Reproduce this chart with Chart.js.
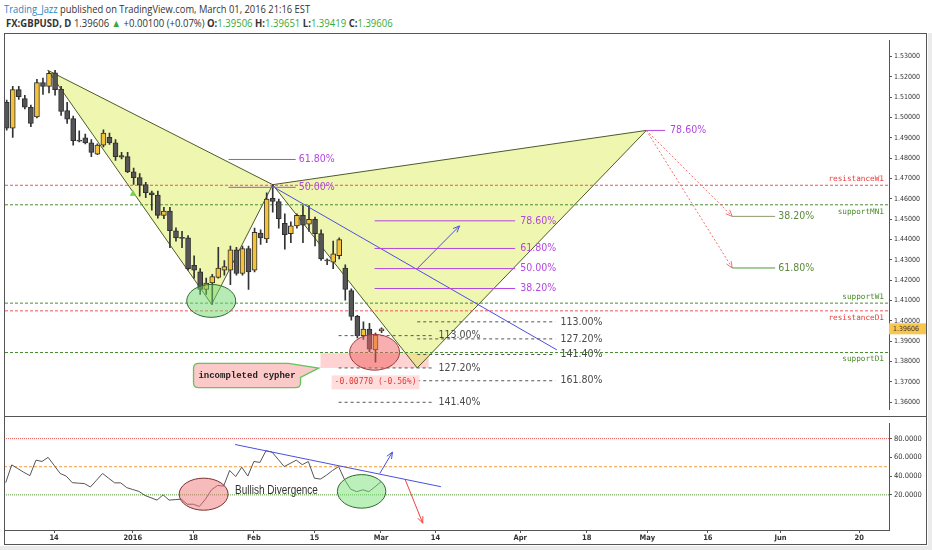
<!DOCTYPE html>
<html lang="en">
<head>
<meta charset="UTF-8">
<title>GBPUSD D - incompleted cypher</title>
<script src="https://cdn.jsdelivr.net/npm/chart.js"></script>
<style>
  body { margin: 0; width: 932px; height: 550px; background: #fff; position: relative; overflow: hidden; }
  .hdr { position: absolute; white-space: nowrap; transform-origin: 0 0; color: #333; font-family: 'Open Sans', sans-serif; }
  #line1 { left: 4px; top: 1px; font-size: 11px; }
  #line1 .user { color: #2a85c4; }
  #line2 { left: 6px; top: 16px; font-size: 10.5px; }
  #line2 b { font-weight: 700; }
  #line2 .up { color: #3aa935; }
  canvas { position: absolute; left: 0; }
  #priceChart { top: 34px; }
  #oscChart { top: 417px; }
  .frame { position: absolute; left: 4px; top: 33px; width: 923px; height: 512px; border: 1px solid #555; box-sizing: border-box; pointer-events: none; }
  .sep { position: absolute; left: 4px; top: 416px; width: 923px; height: 1px; background: #555; }
  .strip { position: absolute; background: #ebebeb; }
</style>
</head>
<body>
<div class="hdr" id="line1"><span class="user">Trading_Jazz</span> published on TradingView.com, March 01, 2016 21:16 EST</div>
<div class="hdr" id="line2"><b>FX:GBPUSD, D</b> 1.39606 <span class="up">&#9650;</span> +0.00100 (+0.07%) <b>O:</b><span class="up">1.39506</span> <b>H:</b><span class="up">1.39651</span> <b>L:</b><span class="up">1.39419</span> <b>C:</b><span class="up">1.39606</span></div>

<canvas id="priceChart" width="932" height="382"></canvas>
<canvas id="oscChart" width="932" height="133"></canvas>
<div class="frame"></div>
<div class="sep"></div>
<div class="strip" style="left:0;top:546px;width:932px;height:4px"></div>
<div class="strip" style="left:928px;top:33px;width:4px;height:517px"></div>

<script>
// ---------- data (one x step = one trading day, 0 = Dec 7 2015) ----------
const firstIdx = -3;   // first candle: Dec 2 2015, last: Mar 1 2016

const opens  = [1.5075,1.4948,1.5138,1.5094,1.5051,1.5003,1.5173,1.5154,1.5220,1.5141,
                1.5035,1.4995,1.4890,1.4900,1.4876,1.4820,1.4865,1.4903,1.4876,1.4813,
                1.4808,1.4733,1.4705,1.4670,1.4630,1.4619,1.4519,1.4540,1.4443,1.4408,
                1.4408,1.4273,1.4241,1.4154,1.4186,1.4213,1.4249,1.4249,1.4349,1.4233,
                1.4356,1.4249,1.4432,1.4403,1.4603,1.4587,1.4480,1.4429,1.4467,1.4519,
                1.4475,1.4499,1.4429,1.4300,1.4289,1.4320,1.4260,1.4149,1.4022,1.3927,
                1.3959,1.3857,1.39506];
const highs  = [1.5086,1.5154,1.5154,1.5110,1.5062,1.5189,1.5194,1.5225,1.5233,1.5154,
                1.5075,1.5008,1.4935,1.4919,1.4892,1.4871,1.4940,1.4924,1.4892,1.4829,
                1.4829,1.4752,1.4724,1.4681,1.4638,1.4638,1.4559,1.4559,1.4457,1.4440,
                1.4419,1.4320,1.4257,1.4210,1.4229,1.4362,1.4297,1.4368,1.4362,1.4368,
                1.4368,1.4456,1.4448,1.4630,1.4670,1.4599,1.4527,1.4487,1.4527,1.4567,
                1.4567,1.4511,1.4448,1.4305,1.4392,1.4408,1.4276,1.4157,1.4027,1.3995,
                1.3987,1.3940,1.39651];
const lows   = [1.4938,1.4903,1.5090,1.5043,1.4956,1.4999,1.5114,1.5122,1.5110,1.5011,
                1.4971,1.4865,1.4880,1.4871,1.4808,1.4818,1.4856,1.4868,1.4789,1.4797,
                1.4729,1.4671,1.4614,1.4606,1.4545,1.4505,1.4503,1.4360,1.4392,1.4360,
                1.4249,1.4210,1.4130,1.4130,1.4081,1.4210,1.4225,1.4178,1.4225,1.4225,
                1.4154,1.4241,1.4376,1.4384,1.4535,1.4456,1.4352,1.4384,1.4456,1.4384,
                1.4440,1.4368,1.4297,1.4276,1.4257,1.4305,1.4101,1.4003,1.3916,1.3908,
                1.3848,1.3797,1.39419];
const closes = [1.4948,1.5138,1.5103,1.5051,1.4971,1.5173,1.5154,1.5218,1.5138,1.5030,
                1.4992,1.4887,1.4884,1.4876,1.4829,1.4865,1.4924,1.4876,1.4808,1.4805,
                1.4733,1.4705,1.4667,1.4630,1.4619,1.4519,1.4540,1.4443,1.4408,1.4406,
                1.4257,1.4249,1.4154,1.4186,1.4218,1.4260,1.4267,1.4349,1.4233,1.4356,
                1.4241,1.4435,1.4408,1.4599,1.4587,1.4503,1.4424,1.4467,1.4519,1.4471,
                1.4499,1.4429,1.4305,1.4295,1.4329,1.4400,1.4154,1.4022,1.3927,1.3959,
                1.3860,1.3930,1.39606];

const oscValues = [33,52,48,44,40.5,57,55.6,60,51.5,42.8,
                   40,33,32.5,32,28.4,35.6,42.8,37.8,32.8,32.8,
                   27.7,25.7,23.7,19.4,16.9,14.4,20,14.4,14.9,15.4,
                   10,10,7.6,15.4,25.4,30,29.3,46,39.5,49.5,
                   40,55.6,54.6,67,65.6,58,50.2,53.5,57,52.2,
                   55.6,37.8,36.8,41,46,50.2,36,26,23.4,25.4,
                   23.4,28.5,34];

const dateTickIdx    = [5, 18, 28, 38, 48, 59, 68, 82, 93, 103, 113, 125, 138];
const dateTickLabels = ['14', '2016', '18', 'Feb', '15', 'Mar', '14', 'Apr', '18', 'May', '16', 'Jun', '20'];
const priceTicks = [1.36, 1.37, 1.38, 1.39, 1.40, 1.41, 1.42, 1.43, 1.44, 1.45, 1.46, 1.47, 1.48, 1.49, 1.50, 1.51, 1.52, 1.53];
const oscTicks   = [20, 40, 60, 80];
const oscLevels  = [80, 50, 20];

// X, A, B, C, D of the cypher drawing
const cypherIdx   = [3.8, 30.9, 41.0, 64.9, 102.8];
const cypherPrice = [1.5233, 1.4081, 1.4670, 1.3768, 1.4937];

const levelNames  = ['resistanceW1', 'supportMN1', 'supportW1', 'resistanceD1', 'supportD1'];
const levelPrices = [1.4667, 1.4571, 1.4087, 1.4049, 1.3844];

const fibBIdx = [33.7, 44.8];
const fibBLabels = ['61.80%', '50.00%'];
const fibBPrices = [1.4794, 1.4657];

const fibCIdx = [57.85, 81.1];
const fibCLabels = ['78.60%', '61.80%', '50.00%', '38.20%'];
const fibCPrices = [1.4492, 1.4356, 1.4257, 1.4159];

const fibDIdx = [102.8, 105.9];
const fibDLabels = ['78.60%'];
const fibDPrices = [1.4937];

const extRightIdx = [64.9, 87.75];
const extRightLabels = ['113.00%', '127.20%', '141.40%', '161.80%'];
const extRightPrices = [1.3995, 1.3911, 1.3834, 1.3705];

const extLeftIdx = [51.9, 67.6];
const extLeftLabels = ['113.00%', '127.20%', '141.40%'];
const extLeftPrices = [1.3927, 1.3768, 1.3599];

const targetIdx = [117.0, 124.1];
const targetLabels = ['38.20%', '61.80%'];
const targetPrices = [1.4514, 1.4260];

const trendIdx = [40.95, 88.0];
const trendPrice = [1.4662, 1.3857];
const arrowUpIdx = [64.9, 71.9];
const arrowUpPrice = [1.4257, 1.4467];

const zoneIdx = [48.9, 66.8];
const zonePrice = [1.3768, 1.3841];

// ellipses: centre x, centre y, half width (days), half height (value units)
const priceEllipses = [[57.85, 1.3845, 4.13, 0.0088], [30.83, 1.4098, 4.05, 0.0081]];
const oscEllipses   = [[29.7, 20.7, 4.04, 17.1], [55.8, 23.7, 4.0, 17.9]];

const calloutIdx = [27.9, 45.6, 48.6];       // left, right, tip
const calloutPrice = [1.3790, 1.3671, 1.3767]; // top, bottom, tip
const calloutText = 'incompleted cypher';
const changeText = '-0.00770 (-0.56%)';
const changeAt = [58.0, 1.3697];

const divTrendIdx = [34.9, 68.9], divTrendVal = [73.7, 28.7];
const divUpIdx = [58.8, 60.9], divUpVal = [42.8, 65.6];
const divDownIdx = [62.97, 65.9], divDownVal = [36.8, -10.2];
const divText = 'Bullish Divergence';
const divTextAt = [34.9, 24.7];

const markerIdx = [17.9], markerPrice = [1.4625];

// ---------- view ----------
const idxMin = -3.28, idxMax = 142.93;
const priceMin = 1.3562, priceMax = 1.5381;
const oscMin = -17.5, oscMax = 96.1;

const COND = '"DejaVu Sans Condensed", "Liberation Sans Narrow", "DejaVu Sans", sans-serif';
const MONO = '"DejaVu Sans Mono", "Liberation Mono", monospace';
const PCT_FONT = '10.5px ' + COND;
const PURPLE = '#b347e0';
const RED = '#f05454';
const GREEN = '#4b8d32';
const BLUE = '#4a4fe0';
const GRAYLBL = '#4a4a4a';

Chart.defaults.animation = false;
Chart.defaults.font.family = COND;

function seg(xs, ys, color, extra) {
  return Object.assign({
    type: 'line',
    data: xs.map((x, i) => ({ x: x, y: ys[i] })),
    borderColor: color, borderWidth: 1, pointRadius: 0, fill: false, tension: 0, order: 2
  }, extra || {});
}

function label(ctx, x, y, text, color, font, align, squeeze) {
  ctx.save();
  ctx.font = font;
  ctx.fillStyle = color;
  ctx.textAlign = align || 'left';
  ctx.textBaseline = 'middle';
  ctx.translate(x, y);
  if (squeeze) ctx.scale(squeeze, 1);
  ctx.fillText(text, 0, 0);
  ctx.restore();
}

function arrowHead(ctx, x1, y1, x2, y2, color) {
  const a = Math.atan2(y2 - y1, x2 - x1), s = 7;
  ctx.save();
  ctx.strokeStyle = color;
  ctx.lineWidth = 1;
  ctx.setLineDash([]);
  ctx.beginPath();
  ctx.moveTo(x2 - s * Math.cos(a - 0.4), y2 - s * Math.sin(a - 0.4));
  ctx.lineTo(x2, y2);
  ctx.lineTo(x2 - s * Math.cos(a + 0.4), y2 - s * Math.sin(a + 0.4));
  ctx.stroke();
  ctx.restore();
}

function ellipse(chart, e, fill, stroke) {
  const { ctx, scales: { x, y } } = chart;
  const cx = x.getPixelForValue(e[0]), cy = y.getPixelForValue(e[1]);
  const rx = Math.abs(x.getPixelForValue(e[0] + e[2]) - cx);
  const ry = Math.abs(y.getPixelForValue(e[1] + e[3]) - cy);
  ctx.save();
  ctx.beginPath();
  ctx.ellipse(cx, cy, rx, ry, 0, 0, Math.PI * 2);
  ctx.fillStyle = fill;
  ctx.fill();
  ctx.strokeStyle = stroke;
  ctx.lineWidth = 1;
  ctx.stroke();
  ctx.restore();
}

function axisTicks(values) {
  return function (scale) { scale.ticks = values.map(v => ({ value: v })); };
}

// ---------- price pane datasets ----------
const priceSets = [];
const tri = { fill: 'shape', backgroundColor: 'rgba(222,238,96,0.5)', borderColor: '#4d5a27', order: 20 };
priceSets.push(seg([0, 1, 2, 0].map(i => cypherIdx[i]), [0, 1, 2, 0].map(i => cypherPrice[i]), '#4d5a27', tri));
priceSets.push(seg([2, 3, 4, 2].map(i => cypherIdx[i]), [2, 3, 4, 2].map(i => cypherPrice[i]), '#4d5a27', tri));

levelNames.forEach((n, i) => {
  const col = n.startsWith('resistance') ? RED : GREEN;
  priceSets.push(seg([idxMin, idxMax], [levelPrices[i], levelPrices[i]], col, { borderDash: [3, 2], order: 15 }));
});

[[fibBIdx, fibBPrices], [fibCIdx, fibCPrices], [fibDIdx, fibDPrices]].forEach(([xs, ps]) => {
  ps.forEach(p => priceSets.push(seg(xs, [p, p], PURPLE)));
});
[[extRightIdx, extRightPrices], [extLeftIdx, extLeftPrices]].forEach(([xs, ps]) => {
  ps.forEach(p => priceSets.push(seg(xs, [p, p], '#555', { borderDash: [3, 3] })));
});
priceSets.push(seg(targetIdx, [targetPrices[0], targetPrices[0]], '#8c9a6c'));
priceSets.push(seg(targetIdx, [targetPrices[1], targetPrices[1]], '#4d9a3a'));

priceSets.push(seg(trendIdx, trendPrice, BLUE));
priceSets.push(seg(arrowUpIdx, arrowUpPrice, BLUE));
targetPrices.forEach(p => {
  priceSets.push(seg([cypherIdx[4], targetIdx[0]], [cypherPrice[4], p], '#f07070', { borderDash: [2, 2] }));
});

const candleX = opens.map((o, i) => firstIdx + i);
const isUp = opens.map((o, i) => closes[i] >= o);
priceSets.push({
  type: 'bar',
  data: candleX.map((x, i) => ({ x: x, y: [opens[i], closes[i]] })),
  backgroundColor: isUp.map(u => u ? '#f5c33b' : '#555555'),
  borderColor: '#2f2f2f', borderWidth: 1, borderSkipped: false,
  barThickness: 5, minBarLength: 1, grouped: false, order: 4
});
priceSets.push({
  type: 'bar',
  data: candleX.map((x, i) => ({ x: x, y: [lows[i], highs[i]] })),
  backgroundColor: '#333', barThickness: 1, grouped: false, order: 5
});
priceSets.push({
  type: 'line', data: markerIdx.map((x, i) => ({ x: x, y: markerPrice[i] })), showLine: false,
  pointStyle: 'triangle', pointRadius: 3, pointBackgroundColor: '#7ccf4c', pointBorderColor: '#7ccf4c', order: 1
});

const priceOverlay = {
  id: 'priceOverlay',
  beforeDatasetsDraw(chart) {
    const { ctx, scales: { x, y } } = chart;
    const x0 = x.getPixelForValue(zoneIdx[0]), x1 = x.getPixelForValue(zoneIdx[1]);
    const y0 = y.getPixelForValue(zonePrice[1]), y1 = y.getPixelForValue(zonePrice[0]);
    ctx.save();
    ctx.fillStyle = 'rgba(255,175,175,0.55)';
    ctx.fillRect(x0, y0, x1 - x0, y1 - y0);
    ctx.restore();
  },
  afterDatasetsDraw(chart) {
    const { ctx, chartArea, scales: { x, y } } = chart;
    const X = v => x.getPixelForValue(v), Y = v => y.getPixelForValue(v);

    ellipse(chart, priceEllipses[0], 'rgba(240,95,95,0.5)', '#9a3a3a');
    ellipse(chart, priceEllipses[1], 'rgba(110,215,110,0.5)', '#2f6a2f');

    arrowHead(ctx, X(arrowUpIdx[0]), Y(arrowUpPrice[0]), X(arrowUpIdx[1]), Y(arrowUpPrice[1]), BLUE);
    targetPrices.forEach(p => arrowHead(ctx, X(cypherIdx[4]), Y(cypherPrice[4]), X(targetIdx[0]), Y(p), '#f07070'));

    fibBLabels.forEach((t, i) => label(ctx, X(fibBIdx[1]) + 3, Y(fibBPrices[i]), t, PURPLE, PCT_FONT));
    fibCLabels.forEach((t, i) => label(ctx, X(fibCIdx[1]) + 5, Y(fibCPrices[i]), t, PURPLE, PCT_FONT));
    fibDLabels.forEach((t, i) => label(ctx, X(fibDIdx[1]) + 5, Y(fibDPrices[i]), t, PURPLE, PCT_FONT));
    extRightLabels.forEach((t, i) => label(ctx, X(extRightIdx[1]) + 5, Y(extRightPrices[i]), t, GRAYLBL, PCT_FONT));
    extLeftLabels.forEach((t, i) => label(ctx, X(extLeftIdx[1]) + 5, Y(extLeftPrices[i]), t, GRAYLBL, PCT_FONT));
    targetLabels.forEach((t, i) => label(ctx, X(targetIdx[1]) + 3, Y(targetPrices[i]), t, '#5b8a3c', PCT_FONT));

    const above = [true, false, true, false, false];
    levelNames.forEach((n, i) => {
      const col = n.startsWith('resistance') ? '#e83c3c' : '#4b8a2b';
      label(ctx, chartArea.right - 5, Y(levelPrices[i]) + (above[i] ? -6 : 7), n, col, '7.7px ' + MONO, 'right');
    });

    // callout
    const l = X(calloutIdx[0]), r = X(calloutIdx[1]), t = Y(calloutPrice[0]), b = Y(calloutPrice[1]);
    const tx = X(calloutIdx[2]), ty = Y(calloutPrice[2]), rad = 5;
    ctx.save();
    ctx.beginPath();
    ctx.moveTo(l + rad, t);
    ctx.lineTo(r - 12, t);
    ctx.lineTo(tx, ty);
    ctx.lineTo(r, t + 14);
    ctx.lineTo(r, b - rad);
    ctx.quadraticCurveTo(r, b, r - rad, b);
    ctx.lineTo(l + rad, b);
    ctx.quadraticCurveTo(l, b, l, b - rad);
    ctx.lineTo(l, t + rad);
    ctx.quadraticCurveTo(l, t, l + rad, t);
    ctx.closePath();
    ctx.fillStyle = '#fcc9c9';
    ctx.fill();
    ctx.strokeStyle = '#62c45a';
    ctx.lineWidth = 1.3;
    ctx.stroke();
    ctx.restore();
    label(ctx, (l + r) / 2, (t + b) / 2, calloutText, '#222', 'bold 9px "Liberation Mono", monospace', 'center');

    // price change tag
    const cx = X(changeAt[0]), cy = Y(changeAt[1]);
    ctx.save();
    ctx.font = '8px ' + MONO;
    const w = ctx.measureText(changeText).width;
    ctx.fillStyle = 'rgba(255,215,215,0.85)';
    ctx.fillRect(cx - w / 2 - 3, cy - 7, w + 6, 14);
    ctx.restore();
    label(ctx, cx, cy, changeText, '#e03a3a', '8px ' + MONO, 'center');
  },
  afterDraw(chart) {
    const { ctx, chartArea, scales: { y } } = chart;
    const last = closes[closes.length - 1];
    const py = y.getPixelForValue(last);
    ctx.save();
    ctx.fillStyle = '#f9c64d';
    ctx.fillRect(chartArea.right, py - 5.5, 37, 11);
    ctx.restore();
    label(ctx, chartArea.right + 4, py, last.toFixed(5), '#333', '7px ' + COND);
  }
};

new Chart(document.getElementById('priceChart'), {
  type: 'bar',
  data: { datasets: priceSets },
  options: {
    responsive: false,
    layout: { padding: { left: 4, right: 0, top: 0, bottom: 0 } },
    plugins: { legend: { display: false }, tooltip: { enabled: false } },
    scales: {
      x: { type: 'linear', min: idxMin, max: idxMax, offset: false, display: false },
      y: {
        position: 'right', min: priceMin, max: priceMax,
        afterFit(s) { s.width = 43; },
        afterBuildTicks: axisTicks(priceTicks),
        grid: { drawOnChartArea: false, drawTicks: true, tickLength: 3, color: '#555' },
        border: { display: true, color: '#555' },
        ticks: { padding: 2, color: '#333', font: { size: 7, family: COND }, callback: v => v.toFixed(5) }
      }
    }
  },
  plugins: [priceOverlay]
});

// ---------- oscillator pane ----------
const oscSets = [];
const levelStyle = [['#f06060', [1, 1]], ['#f0a040', [3, 2]], ['#5a9a3a', [1, 1]]];
oscLevels.forEach((v, i) => {
  oscSets.push(seg([idxMin, idxMax], [v, v], levelStyle[i][0], { borderDash: levelStyle[i][1], order: 10 }));
});
oscSets.push(seg(candleX, oscValues, '#555', { order: 3 }));
oscSets.push(seg(divTrendIdx, divTrendVal, BLUE));
oscSets.push(seg(divUpIdx, divUpVal, BLUE));
oscSets.push(seg(divDownIdx, divDownVal, '#f04040'));

const oscOverlay = {
  id: 'oscOverlay',
  afterDatasetsDraw(chart) {
    const { ctx, scales: { x, y } } = chart;
    const X = v => x.getPixelForValue(v), Y = v => y.getPixelForValue(v);
    ellipse(chart, oscEllipses[0], 'rgba(240,120,120,0.5)', '#7a3030');
    ellipse(chart, oscEllipses[1], 'rgba(120,225,120,0.5)', '#2f6a2f');
    arrowHead(ctx, X(divUpIdx[0]), Y(divUpVal[0]), X(divUpIdx[1]), Y(divUpVal[1]), BLUE);
    arrowHead(ctx, X(divDownIdx[0]), Y(divDownVal[0]), X(divDownIdx[1]), Y(divDownVal[1]), '#f04040');
    label(ctx, X(divTextAt[0]), Y(divTextAt[1]), divText, '#333', '12.5px "Liberation Sans", sans-serif', 'left', 0.8);
  }
};

new Chart(document.getElementById('oscChart'), {
  type: 'line',
  data: { datasets: oscSets },
  options: {
    responsive: false,
    layout: { padding: { left: 4, right: 0, top: 0, bottom: 0 } },
    plugins: { legend: { display: false }, tooltip: { enabled: false } },
    scales: {
      x: {
        type: 'linear', min: idxMin, max: idxMax, offset: false,
        afterFit(s) { s.height = 20; },
        afterBuildTicks: axisTicks(dateTickIdx),
        grid: { drawOnChartArea: false, drawTicks: true, tickLength: 3, color: '#555' },
        border: { display: true, color: '#555' },
        ticks: { autoSkip: false, maxRotation: 0, padding: 1, color: '#333',
                 font: { size: 7.5, weight: 'bold', family: COND },
                 callback: (v, i) => dateTickLabels[i] }
      },
      y: {
        position: 'right', min: oscMin, max: oscMax,
        afterFit(s) { s.width = 43; },
        afterBuildTicks: axisTicks(oscTicks),
        grid: { drawOnChartArea: false, drawTicks: true, tickLength: 3, color: '#555' },
        border: { display: true, color: '#555' },
        ticks: { padding: 2, color: '#333', font: { size: 7.5, family: COND }, callback: v => v.toFixed(4) }
      }
    }
  },
  plugins: [oscOverlay]
});

// header lines are squeezed to the reference widths
function fitWidth(id, target) {
  const el = document.getElementById(id);
  el.style.transform = 'scaleX(' + (target / el.offsetWidth) + ')';
}
fitWidth('line1', 306);
fitWidth('line2', 387);
</script>
</body>
</html>
